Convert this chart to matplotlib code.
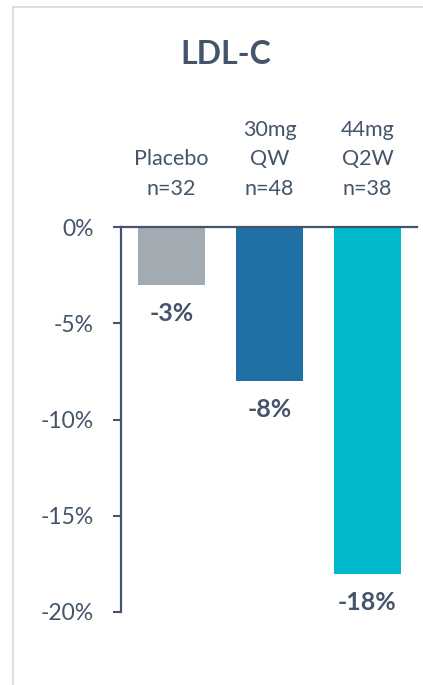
import matplotlib
matplotlib.use("Agg")
import matplotlib.pyplot as plt
from matplotlib.lines import Line2D
from matplotlib.transforms import blended_transform_factory

categories = ["Placebo\nn=32", "30mg\nQW\nn=48", "44mg\nQ2W\nn=38"]
values = [-3, -8, -18]
value_labels = ["-3%", "-8%", "-18%"]
colors = ["#a2abb1", "#1f70a4", "#00b8cc"]
yticks = [0, -5, -10, -15, -20]
ytick_labels = ["0%", "-5%", "-10%", "-15%", "-20%"]
title = "LDL-C"

TXT = "#44546a"
plt.rcParams["font.family"] = ["Lato", "DejaVu Sans"]

W, H = 423, 685
fig = plt.figure(figsize=(W / 100, H / 100), dpi=100)
fig.patch.set_facecolor("white")

# frame lines (left and top)
border = "#d3d9df"
fig.add_artist(Line2D([13 / W, 13 / W], [0, 1 - 7 / H], transform=fig.transFigure, color=border, lw=1.2))
fig.add_artist(Line2D([13 / W, 1], [1 - 7 / H, 1 - 7 / H], transform=fig.transFigure, color=border, lw=1.2))

ax = fig.add_axes([121 / W, (H - 612) / H, (416.5 - 121) / W, 385 / H])
x = list(range(len(categories)))
ax.bar(x, values, width=0.684, color=colors, zorder=2)
ax.set_xlim(-0.515, 2.5)
ax.set_ylim(-20, 0)

for s in ["right", "bottom"]:
    ax.spines[s].set_visible(False)
for s in ["left", "top"]:
    ax.spines[s].set_color(TXT)
    ax.spines[s].set_linewidth(1.6)
    ax.spines[s].set_zorder(3)

ax.set_xticks([])
ax.set_yticks(yticks)
ax.set_yticklabels(ytick_labels)
ax.tick_params(axis="y", direction="out", length=6, width=1.5, color=TXT,
               labelcolor=TXT, labelsize=16.5, pad=13.5)

for xi, v, lab in zip(x, values, value_labels):
    ax.text(xi, v - 1.5, lab, ha="center", va="center", fontsize=18,
            fontweight="bold", color=TXT)

trans = blended_transform_factory(ax.transData, ax.transAxes)
for xi, cat in zip(x, categories):
    ax.text(xi, 1 + 32 / 385, cat, transform=trans, ha="center", va="baseline",
            fontsize=15.5, color=TXT, linespacing=1.6)

fig.text(226 / W, 1 - 54 / H, title, ha="center", va="center", fontsize=23,
         fontweight="bold", color=TXT)

fig.savefig("out.png", dpi=100, facecolor="white")
